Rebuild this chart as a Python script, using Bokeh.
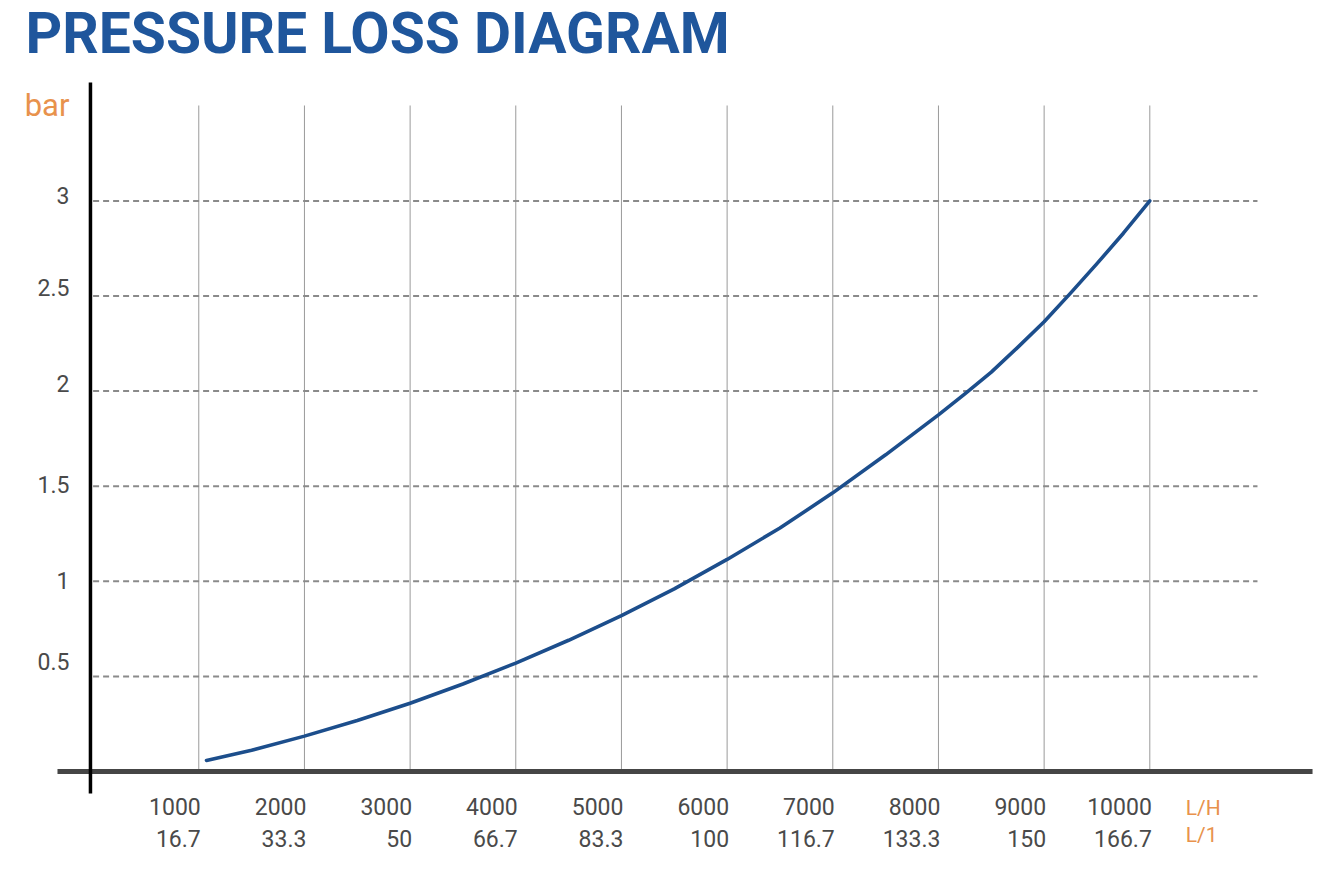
from bokeh.plotting import figure
from bokeh.models import Range1d, ColumnDataSource
from bokeh.core.properties import value
from bokeh.embed import file_html
from bokeh.resources import INLINE

# ---------------- data ----------------
flow_lh = [1073, 1500, 2000, 2500, 3000, 3500, 4000, 4500, 5000, 5500, 6000,
           6500, 7000, 7500, 8000, 8250, 8500, 8750, 9000, 9250, 9500, 9750, 10000]
loss_bar = [0.058, 0.112, 0.186, 0.268, 0.359, 0.46, 0.57, 0.69, 0.82, 0.96,
            1.115, 1.28, 1.465, 1.665, 1.875, 1.985, 2.10, 2.23, 2.365, 2.515,
            2.67, 2.83, 3.0]

x_ticks = [1000, 2000, 3000, 4000, 5000, 6000, 7000, 8000, 9000, 10000]
x_labels_lh = ["1000", "2000", "3000", "4000", "5000", "6000", "7000", "8000", "9000", "10000"]
x_labels_lmin = ["16.7", "33.3", "50", "66.7", "83.3", "100", "116.7", "133.3", "150", "166.7"]

y_ticks = [3, 2.5, 2, 1.5, 1, 0.5]
y_labels = ["3", "2.5", "2", "1.5", "1", "0.5"]

title_text = "PRESSURE LOSS DIAGRAM"
y_unit = "bar"
x_unit_1 = "L/H"
x_unit_2 = "L/1"

# ---------------- style / layout ----------------
W, H = 1338, 870
X_START, X_END = -876.3, 11785.7
Y_START, Y_END = -0.5205, 4.0536
Y_AXIS_X = -25
Y_LABEL_NUDGE = [-5, -8, -8, -2, -1, -15]  # pixel nudges of tick label baselines

BLUE_TITLE = "#1f569c"
BLUE_LINE = "#1c4e8c"
ORANGE = "#e8924c"
TEXT_GRAY = "#4a4a4a"
FONT = value("Roboto")

p = figure(width=W, height=H, x_range=Range1d(X_START, X_END),
           y_range=Range1d(Y_START, Y_END), output_backend="svg",
           toolbar_location=None, x_axis_location=None, y_axis_location=None,
           min_border=0, outline_line_color=None, background_fill_color="white",
           border_fill_color="white")
p.grid.visible = False

# vertical grid lines
p.segment(x0=x_ticks, y0=[0] * len(x_ticks), x1=x_ticks, y1=[3.5016] * len(x_ticks),
          line_color="#9a9a9a", line_width=1)

# horizontal dashed lines
p.segment(x0=[0] * len(y_ticks), y0=y_ticks, x1=[11019] * len(y_ticks), y1=y_ticks,
          line_color="#8a8a8a", line_width=2, line_dash="6 4")

# x axis (thick gray) and y axis (black)
p.segment(x0=[-337], y0=[0], x1=[11540], y1=[0], line_color="#454545", line_width=5)
p.segment(x0=[Y_AXIS_X], y0=[-0.1157], x1=[Y_AXIS_X], y1=[3.6225],
          line_color="black", line_width=3.5)

# curve
src = ColumnDataSource(dict(q=flow_lh, dp=loss_bar))
p.line("q", "dp", source=src, line_color=BLUE_LINE, line_width=3.6,
       line_join="round", line_cap="round")

# x tick labels (two rows)
p.text(x=x_ticks, y=[0] * len(x_ticks), text=x_labels_lh, text_align="right",
       text_baseline="alphabetic", x_offset=2, y_offset=35,
       text_font=FONT, text_font_size="23px", text_color=TEXT_GRAY)
p.text(x=x_ticks, y=[0] * len(x_ticks), text=x_labels_lmin, text_align="right",
       text_baseline="alphabetic", x_offset=2, y_offset=67,
       text_font=FONT, text_font_size="23px", text_color=TEXT_GRAY)

# x units
p.text(x=[x_ticks[-1]], y=[0], text=[x_unit_1], text_align="left",
       text_baseline="alphabetic", x_offset=36, y_offset=36,
       text_font=FONT, text_font_size="21px", text_color=ORANGE)
p.text(x=[x_ticks[-1]], y=[0], text=[x_unit_2], text_align="left",
       text_baseline="alphabetic", x_offset=36, y_offset=63,
       text_font=FONT, text_font_size="21px", text_color=ORANGE)

# y tick labels
for yv, lab, nud in zip(y_ticks, y_labels, Y_LABEL_NUDGE):
    p.text(x=[Y_AXIS_X], y=[yv], text=[lab], text_align="right",
           text_baseline="alphabetic", x_offset=-21, y_offset=nud,
           text_font=FONT, text_font_size="23px", text_color=TEXT_GRAY)

# y unit
p.text(x=[Y_AXIS_X], y=[Y_END], text=[y_unit], text_align="right",
       text_baseline="alphabetic", x_offset=-21, y_offset=105,
       text_font=FONT, text_font_size="31px", text_color=ORANGE)

# title
p.text(x=[X_START], y=[Y_END], text=[title_text], text_align="left",
       text_baseline="alphabetic", x_offset=25, y_offset=33,
       text_font=FONT, text_font_size="57px", text_font_style="bold",
       text_color=BLUE_TITLE)

open("out.html", "w").write(file_html(p, INLINE))
